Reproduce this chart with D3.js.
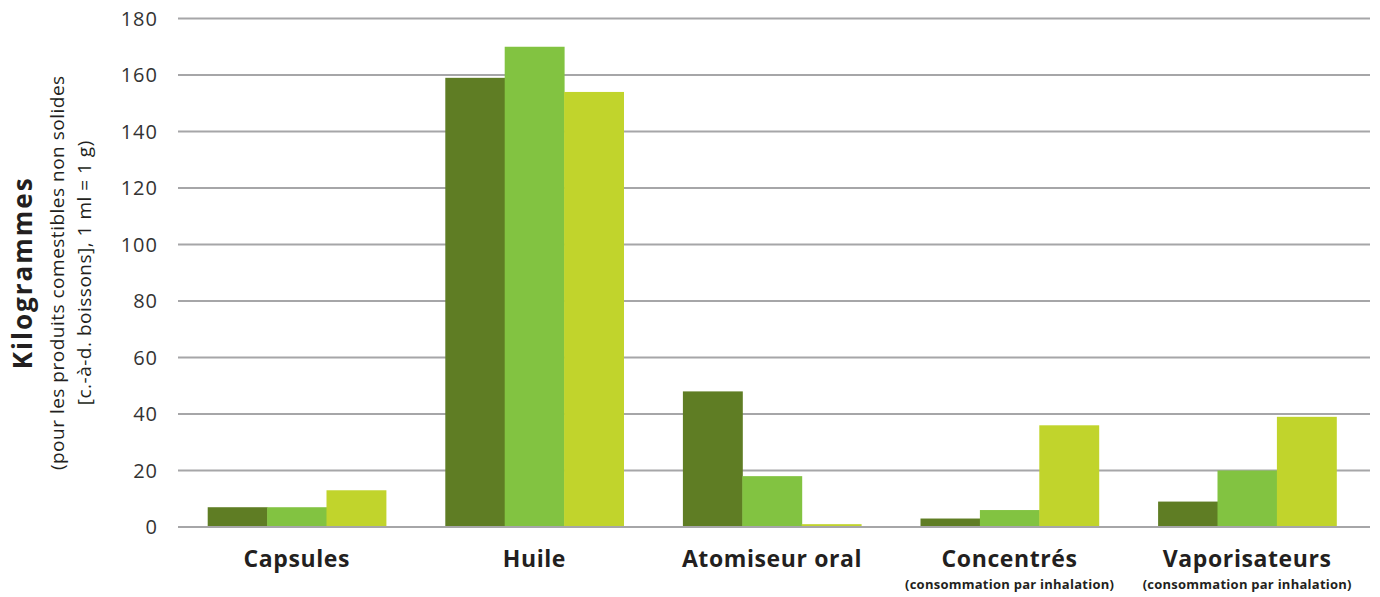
<!DOCTYPE html>
<html><head><meta charset="utf-8">
<script src="https://cdn.jsdelivr.net/npm/d3@7/dist/d3.min.js"></script>
<style>body{margin:0;background:#fff;font-family:"Open Sans",sans-serif;}</style>
</head><body><svg id="c" width="1380" height="597"></svg>
<script>
const categories = ["Capsules","Huile","Atomiseur oral","Concentrés","Vaporisateurs"];
const subLabels = ["","","","(consommation par inhalation)","(consommation par inhalation)"];
const series1 = [7,159,48,3,9];
const series2 = [7,170,18,6,20];
const series3 = [13,154,1,36,39];
const yTicks = [0,20,40,60,80,100,120,140,160,180];
const colors = ["#5f7d24","#82c341","#c1d42c"];

const svg = d3.select("#c");
const L=178,R=1370,T=18.5,B=527;
const x = d3.scaleBand().domain(categories).range([L,R-4]).paddingInner(0.25).paddingOuter(0.125);
const xs = d3.scaleBand().domain([0,1,2]).range([0,x.bandwidth()]);
const y = d3.scaleLinear().domain([0,180]).range([B,T]);

const g = svg.append("g");
g.selectAll("line.grid").data(yTicks).join("line")
 .attr("x1",L).attr("x2",R).attr("y1",d=>y(d)).attr("y2",d=>y(d))
 .attr("stroke","#a6a6a8").attr("stroke-width",2);
g.selectAll("text.tick").data(yTicks).join("text")
 .attr("x",158).attr("y",d=>y(d)).attr("dy","0.36em").attr("text-anchor","end")
 .attr("font-size",20).attr("letter-spacing",1).attr("fill","#333").text(d=>d);

const data = [series1,series2,series3];
data.forEach((s,si)=>{
  g.selectAll("rect.s"+si).data(s).join("rect")
   .attr("x",(d,i)=>x(categories[i])+xs(si)).attr("width",xs.bandwidth()+0.5)
   .attr("y",d=>y(d)).attr("height",d=>B-1-y(d)).attr("fill",colors[si]);
});

g.selectAll("text.cat").data(categories).join("text")
 .attr("x",d=>x(d)+x.bandwidth()/2).attr("y",567).attr("text-anchor","middle")
 .attr("font-size",23).attr("letter-spacing",0.6).attr("font-weight","bold").attr("fill","#231f20").text(d=>d);
g.selectAll("text.sub").data(subLabels).join("text")
 .attr("x",(d,i)=>x(categories[i])+x.bandwidth()/2).attr("y",589).attr("text-anchor","middle")
 .attr("font-size",13).attr("letter-spacing",0.25).attr("font-weight","bold").attr("fill","#231f20").text(d=>d);

const yt = svg.append("g").attr("transform","translate(0,"+(T+B)/2+") rotate(-90)");
yt.append("text").attr("x",0).attr("y",32).attr("text-anchor","middle")
 .attr("font-size",26).attr("letter-spacing",2).attr("font-weight","bold").attr("fill","#231f20").text("Kilogrammes");
yt.append("text").attr("x",0).attr("y",64).attr("text-anchor","middle")
 .attr("font-size",19).attr("letter-spacing",0.5).attr("fill","#231f20").text("(pour les produits comestibles non solides");
yt.append("text").attr("x",0).attr("y",91).attr("text-anchor","middle")
 .attr("font-size",19).attr("letter-spacing",0.5).attr("fill","#231f20").text("[c.-à-d. boissons], 1 ml = 1 g)");
</script></body></html>
